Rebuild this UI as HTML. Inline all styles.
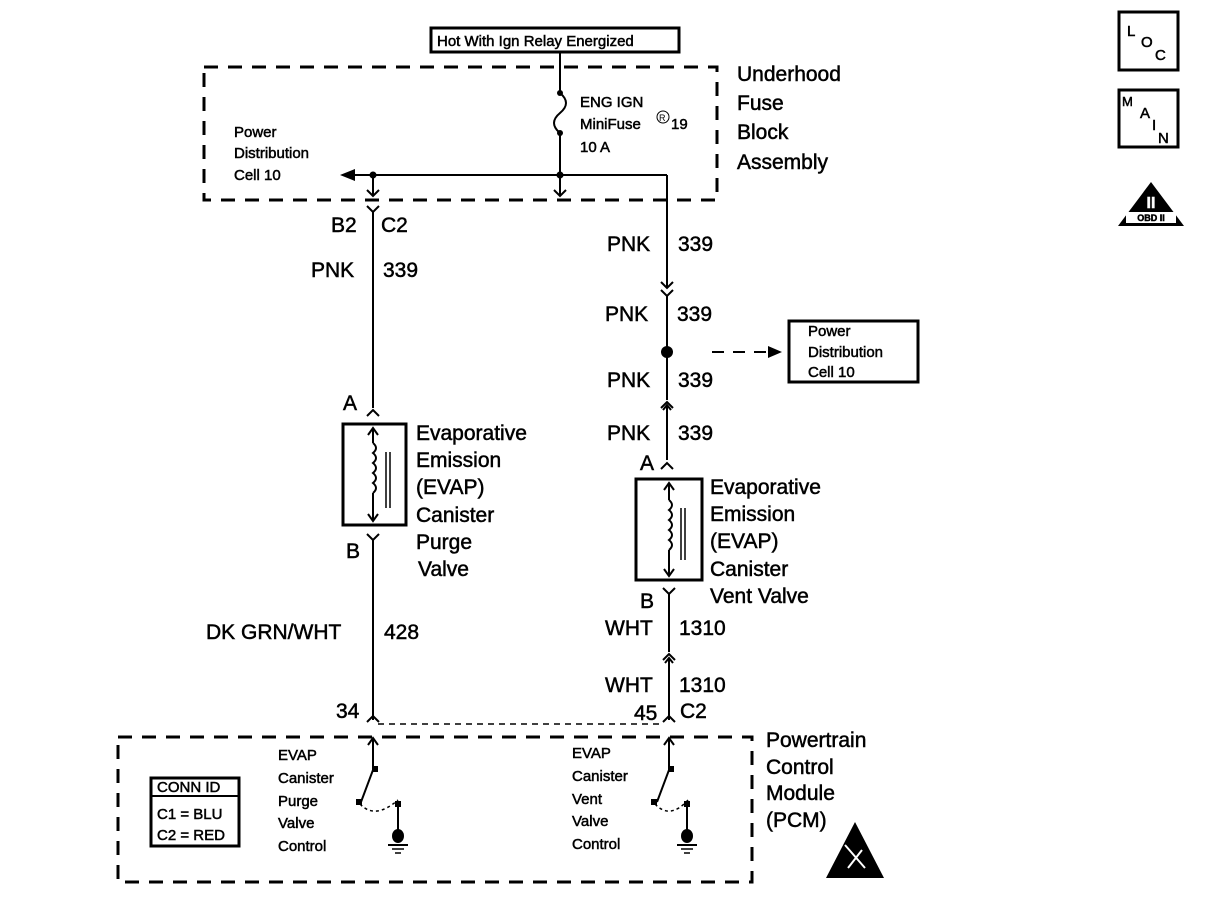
<!DOCTYPE html>
<html><head><meta charset="utf-8"><style>
html,body{margin:0;padding:0;background:#fff;}
svg{display:block;}
text{font-family:"Liberation Sans",Arial,sans-serif;fill:#000;stroke:#000;stroke-width:0.5;}
</style></head><body>
<svg width="1216" height="918" viewBox="0 0 1216 918" xmlns="http://www.w3.org/2000/svg">
<g stroke="#000" fill="none">
<rect x="431" y="28" width="248" height="24" stroke-width="3"/>
<rect x="204" y="67" width="513" height="133" stroke-width="3" stroke-dasharray="14,10"/>
<line x1="560" y1="52" x2="560" y2="93" stroke-width="2"/>
<path d="M560,93 q12,10 0,20 q-12,10 0,20" stroke-width="2"/>
<line x1="560" y1="133" x2="560" y2="196" stroke-width="2"/>
<line x1="355" y1="175" x2="667" y2="175" stroke-width="2"/>
<line x1="667" y1="175" x2="667" y2="288" stroke-width="2"/>
<line x1="373" y1="175" x2="373" y2="196" stroke-width="2"/>
<path d="M367,190 L373,196 L379,190" stroke-width="2"/>
<path d="M554,190 L560,196 L566,190" stroke-width="2"/>
<path d="M367,206 L373,212 L379,206 M373,212 L373,408" stroke-width="2"/>
<path d="M367,416 L373,410 L379,416" stroke-width="2"/>
<rect x="343" y="424" width="63" height="101" stroke-width="3"/>
<line x1="373" y1="428" x2="373" y2="443" stroke-width="2"/>
<path d="M368,435 L373,428 L378,435" stroke-width="2"/>
<path d="M373,443 q6,5 0,10 q6,5 0,10 q6,5 0,10 q6,5 0,10 q6,5 0,10" stroke-width="2"/>
<line x1="373" y1="493" x2="373" y2="521" stroke-width="2"/>
<path d="M368,514 L373,521 L378,514" stroke-width="2"/>
<line x1="386" y1="452" x2="386" y2="508" stroke-width="1.5"/>
<line x1="390" y1="452" x2="390" y2="508" stroke-width="1.5"/>
<path d="M367,534 L373,540 L379,534 M373,540 L373,720" stroke-width="2"/>
<path d="M367,722 L373,716 L379,722" stroke-width="2"/>
<path d="M661,282 L667,288 L673,282 M661,290 L667,296 L673,290 M667,296 L667,400" stroke-width="2"/>
<path d="M661,408 L667,402 L673,408" stroke-width="2"/>
<path d="M663,410 L667,405 L671,410 M667,406 L667,460" stroke-width="2"/>
<path d="M661,469 L667,463 L673,469" stroke-width="2"/>
<line x1="712" y1="352" x2="770" y2="352" stroke-width="2" stroke-dasharray="12,9"/>
<rect x="789" y="321" width="129" height="61" stroke-width="3"/>
<rect x="636" y="479" width="66" height="101" stroke-width="3"/>
<line x1="669" y1="483" x2="669" y2="500" stroke-width="2"/>
<path d="M664,490 L669,483 L674,490" stroke-width="2"/>
<path d="M669,500 q6,5 0,10 q6,5 0,10 q6,5 0,10 q6,5 0,10 q6,5 0,10" stroke-width="2"/>
<line x1="669" y1="550" x2="669" y2="576" stroke-width="2"/>
<path d="M664,569 L669,576 L674,569" stroke-width="2"/>
<line x1="681" y1="508" x2="681" y2="560" stroke-width="1.5"/>
<line x1="685" y1="508" x2="685" y2="560" stroke-width="1.5"/>
<path d="M663,588 L669,594 L675,588 M669,594 L669,652" stroke-width="2"/>
<path d="M663,660 L669,654 L675,660" stroke-width="2"/>
<path d="M665,663 L669,658 L673,663 M669,659 L669,720" stroke-width="2"/>
<path d="M663,722 L669,716 L675,722" stroke-width="2"/>
<line x1="378" y1="724" x2="664" y2="724" stroke-width="1.5" stroke-dasharray="6,5"/>
<rect x="118" y="737" width="634" height="145" stroke-width="3" stroke-dasharray="14,10"/>
<path d="M373,738 L373,770 L361,802" stroke-width="2"/>
<path d="M368,745 L373,738 L378,745" stroke-width="2"/>
<path d="M360,804 q15,16 38,-4" stroke-width="1.5" stroke-dasharray="3,3"/>
<line x1="398" y1="804" x2="398" y2="835" stroke-width="2"/>
<line x1="388" y1="845" x2="408" y2="845" stroke-width="2"/>
<line x1="392" y1="849" x2="404" y2="849" stroke-width="1.5"/>
<line x1="395" y1="853" x2="401" y2="853" stroke-width="1.5"/>
<path d="M669,738 L669,770 L657,802" stroke-width="2"/>
<path d="M664,745 L669,738 L674,745" stroke-width="2"/>
<path d="M655,804 q15,16 33,-4" stroke-width="1.5" stroke-dasharray="3,3"/>
<line x1="687" y1="804" x2="687" y2="835" stroke-width="2"/>
<line x1="677" y1="845" x2="697" y2="845" stroke-width="2"/>
<line x1="681" y1="849" x2="693" y2="849" stroke-width="1.5"/>
<line x1="684" y1="853" x2="690" y2="853" stroke-width="1.5"/>
<rect x="151" y="778" width="88" height="68" stroke-width="3"/>
<line x1="151" y1="796" x2="239" y2="796" stroke-width="2"/>
<rect x="1119" y="12" width="59" height="58" stroke-width="3"/>
<rect x="1119" y="90" width="59" height="57" stroke-width="3"/>
</g>
<g fill="#000">
<circle cx="560" cy="93" r="3"/><circle cx="560" cy="133" r="3"/><circle cx="560" cy="175" r="3.5"/><circle cx="373" cy="175" r="3.5"/>
<polygon points="340,175 355,169 355,181"/>
<circle cx="667" cy="352" r="6"/>
<polygon points="782,352 768,346 768,358"/>
<rect x="373" y="766" width="5" height="6"/><rect x="356" y="799" width="6" height="6"/><rect x="395" y="801" width="6" height="6"/>
<ellipse cx="398" cy="836" rx="6" ry="7"/>
<rect x="669" y="766" width="5" height="6"/><rect x="651" y="799" width="6" height="6"/><rect x="684" y="801" width="6" height="6"/>
<ellipse cx="687" cy="836" rx="6" ry="7"/>
<polygon points="1151,182 1118,226 1184,226"/>
<polygon points="855,822 826,878 884,878"/>
</g>
<path d="M845,845 L865,868 M848,868 L862,850" stroke="#fff" stroke-width="2" fill="none"/>
<rect x="1126" y="212" width="50" height="11" fill="#fff"/>
<text x="1151" y="221" font-size="9" font-weight="bold" text-anchor="middle">OBD II</text>
<text x="1151" y="208" font-size="16" font-weight="bold" text-anchor="middle" style="fill:#fff;stroke:#fff">II</text>
<text x="1127" y="36" font-size="15">L</text><text x="1141" y="47" font-size="15">O</text><text x="1155" y="60" font-size="15">C</text>
<text x="1122" y="106" font-size="13">M</text><text x="1140" y="118" font-size="15">A</text><text x="1152" y="130" font-size="15">I</text><text x="1158" y="143" font-size="15">N</text>

<text x="437" y="46" font-size="15">Hot With Ign Relay Energized</text>
<g font-size="21">
<text x="737" y="81">Underhood</text><text x="737" y="110">Fuse</text><text x="737" y="139">Block</text><text x="737" y="169">Assembly</text>
<text x="331" y="232">B2</text><text x="381" y="232">C2</text>
<text x="311" y="277">PNK</text><text x="383" y="277">339</text>
<text x="607" y="251">PNK</text><text x="678" y="251">339</text>
<text x="605" y="321">PNK</text><text x="677" y="321">339</text>
<text x="607" y="387">PNK</text><text x="678" y="387">339</text>
<text x="607" y="440">PNK</text><text x="678" y="440">339</text>
<text x="343" y="410">A</text><text x="346" y="558">B</text>
<text x="640" y="470">A</text><text x="640" y="608">B</text>
<text x="416" y="440">Evaporative</text><text x="416" y="467">Emission</text><text x="416" y="494">(EVAP)</text><text x="416" y="522">Canister</text><text x="416" y="549">Purge</text><text x="418" y="576">Valve</text>
<text x="710" y="494">Evaporative</text><text x="710" y="521">Emission</text><text x="710" y="548">(EVAP)</text><text x="710" y="576">Canister</text><text x="710" y="603">Vent Valve</text>
<text x="206" y="639">DK GRN/WHT</text><text x="384" y="639">428</text>
<text x="605" y="635">WHT</text><text x="679" y="635">1310</text>
<text x="605" y="692">WHT</text><text x="679" y="692">1310</text>
<text x="336" y="718">34</text><text x="634" y="720">45</text><text x="680" y="718">C2</text>
<text x="766" y="747">Powertrain</text><text x="766" y="774">Control</text><text x="766" y="800">Module</text><text x="766" y="827">(PCM)</text>
</g>
<g font-size="15">
<text x="580" y="107">ENG IGN</text><text x="580" y="129">MiniFuse</text><text x="671" y="129">19</text><text x="580" y="152">10 A</text>
<text x="234" y="137">Power</text><text x="234" y="158">Distribution</text><text x="234" y="180">Cell 10</text>
<text x="808" y="336">Power</text><text x="808" y="357">Distribution</text><text x="808" y="377">Cell 10</text>
<text x="278" y="760">EVAP</text><text x="278" y="783">Canister</text><text x="278" y="806">Purge</text><text x="278" y="828">Valve</text><text x="278" y="851">Control</text>
<text x="572" y="758">EVAP</text><text x="572" y="781">Canister</text><text x="572" y="804">Vent</text><text x="572" y="826">Valve</text><text x="572" y="849">Control</text>
<text x="157" y="792">CONN ID</text><text x="157" y="819">C1 = BLU</text><text x="157" y="840">C2 = RED</text>
</g>
<circle cx="663" cy="117" r="6" fill="none" stroke="#000" stroke-width="1"/>
<text x="659" y="121" font-size="9" style="stroke-width:0">R</text>
</svg>
</body></html>
